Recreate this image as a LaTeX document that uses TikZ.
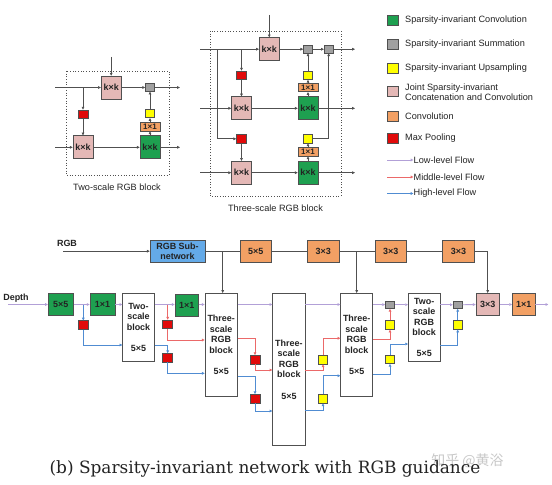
\documentclass[tikz,border=0pt]{standalone}
\usepackage{fontspec}
\setmainfont{Liberation Sans}
\newfontfamily\capserif{DejaVu Serif}
\newfontfamily\cjk{Noto Sans CJK SC}
\usetikzlibrary{arrows.meta,calc}
\definecolor{edgecol}{RGB}{80,80,80}
\definecolor{txtcol}{RGB}{35,35,35}
\definecolor{sgreen}{RGB}{30,160,80}
\definecolor{sgray}{RGB}{160,160,160}
\definecolor{syellow}{RGB}{255,255,0}
\definecolor{spink}{RGB}{228,184,182}
\definecolor{sorange}{RGB}{242,160,100}
\definecolor{sred}{RGB}{225,10,10}
\definecolor{sblue}{RGB}{100,170,232}
\definecolor{lowc}{RGB}{178,160,215}
\definecolor{midc}{RGB}{235,105,105}
\definecolor{highc}{RGB}{80,140,210}
\definecolor{wmark}{RGB}{200,200,200}
\tikzset{
  bx/.style={draw=edgecol, line width=0.6bp, inner sep=0pt, text=txtcol,
    font=\bfseries\fontsize{9}{10.6}\selectfont, align=center},
  gbox/.style={bx, fill=sgreen},
  graybox/.style={bx, fill=sgray, minimum width=9bp, minimum height=7.5bp},
  ybox/.style={bx, fill=syellow, minimum width=9bp, minimum height=8.5bp},
  pbox/.style={bx, fill=spink},
  obox/.style={bx, fill=sorange},
  rbox/.style={bx, fill=sred, minimum width=10bp, minimum height=8.5bp},
  wbox/.style={bx, fill=white},
  kk/.style={minimum width=20bp, minimum height=23bp},
  small/.style={minimum width=20bp, minimum height=8.5bp, font=\bfseries\fontsize{8}{9}\selectfont},
  mid/.style={minimum width=25bp, minimum height=22.5bp},
  arr/.style={draw=edgecol, line width=0.6bp, -{Triangle[length=2.8bp,width=2.6bp]}},
  ln/.style={draw=edgecol, line width=0.6bp},
  lowf/.style={draw=lowc, line width=0.8bp, -{Triangle[length=2.8bp,width=2.6bp]}},
  midf/.style={draw=midc, line width=0.8bp, -{Triangle[length=2.8bp,width=2.6bp]}},
  highf/.style={draw=highc, line width=0.8bp, -{Triangle[length=2.8bp,width=2.6bp]}},
  legtxt/.style={inner sep=0pt, text=txtcol, font=\fontsize{9.2}{10.5}\selectfont, align=left},
  captxt/.style={inner sep=0pt, text=txtcol, font=\fontsize{9.2}{11}\selectfont},
  lbl/.style={inner sep=0pt, text=txtcol, font=\bfseries\fontsize{9}{10}\selectfont},
  dotbox/.style={draw=edgecol, line width=0.7bp, dotted},
}
\begin{document}
\begin{tikzpicture}[x=1bp,y=-1bp]
\useasboundingbox (0,0) rectangle (552,485);
\fill[white] (0,0) rectangle (552,485);

% ---------------- Two-scale RGB block ----------------
\draw[dotbox] (66,71) rectangle (169,175);
\node[pbox,kk] (pkA) at (111.2,87.5) {k×k};
\node[graybox] (g1) at (150,87.5) {};
\node[rbox] (r1) at (83,114.2) {};
\node[pbox,kk] (pkB) at (83,147.3) {k×k};
\node[gbox,kk] (gA) at (150,147.3) {k×k};
\node[obox,small] (oA) at (150,126.7) {1×1};
\node[ybox] (yA) at (150,113.5) {};
\coordinate (inA) at (111.2,57);
\coordinate (tlA) at (55,87.5);
\coordinate (brA) at (83,87.5);
\coordinate (outA1) at (180,87.5);
\coordinate (blA) at (55,147.3);
\coordinate (outA2) at (180,147.3);
\draw[arr] (inA) -- (pkA);
\draw[arr] (tlA) -- (pkA);
\draw[arr] (pkA) -- (g1);
\draw[arr] (g1) -- (outA1);
\draw[arr] (brA) -- (r1);
\draw[arr] (r1) -- (pkB);
\draw[arr] (blA) -- (pkB);
\draw[arr] (pkB) -- (gA);
\draw[arr] (gA) -- (outA2);
\draw[arr] (gA) -- (oA);
\draw[arr] (oA) -- (yA);
\draw[arr] (yA) -- (g1);
\node[captxt] (capA) at (117,187) {Two-scale RGB block};

% ---------------- Three-scale RGB block ----------------
\draw[dotbox] (210,31) rectangle (341,196);
\node[pbox,kk] (pkC) at (269.3,49.2) {k×k};
\node[graybox] (g2) at (308,49.2) {};
\node[graybox] (g3) at (328.7,49.2) {};
\node[rbox] (r2) at (241.5,75.2) {};
\node[pbox,kk] (pkD) at (241.5,108.3) {k×k};
\node[rbox] (r3) at (241.5,138.8) {};
\node[pbox,kk] (pkE) at (241.5,172.7) {k×k};
\node[gbox,kk] (gD) at (308,108.3) {k×k};
\node[gbox,kk] (gE) at (308,172.7) {k×k};
\node[obox,small] (oD) at (308,87.5) {1×1};
\node[obox,small] (oE) at (308,151.8) {1×1};
\node[ybox] (yD) at (308,75.2) {};
\node[ybox] (yE) at (308,138.8) {};
\coordinate (inC) at (269.3,15);
\coordinate (tlC) at (200,49.2);
\coordinate (outC1) at (355,49.2);
\coordinate (br1) at (241.5,49.2);
\coordinate (br2) at (217,49.2);
\coordinate (mlC) at (200,108.3);
\coordinate (outC2) at (355,108.3);
\coordinate (blC) at (200,172.7);
\coordinate (outC3) at (355,172.7);
\draw[arr] (inC) -- (pkC);
\draw[arr] (tlC) -- (pkC);
\draw[arr] (pkC) -- (g2);
\draw[arr] (g2) -- (g3);
\draw[arr] (g3) -- (outC1);
\draw[arr] (br1) -- (r2);
\draw[arr] (r2) -- (pkD);
\draw[arr] (br2) |- (r3);
\draw[arr] (r3) -- (pkE);
\draw[arr] (mlC) -- (pkD);
\draw[arr] (pkD) -- (gD);
\draw[arr] (gD) -- (outC2);
\draw[arr] (blC) -- (pkE);
\draw[arr] (pkE) -- (gE);
\draw[arr] (gE) -- (outC3);
\draw[arr] (gD) -- (oD);
\draw[arr] (oD) -- (yD);
\draw[arr] (yD) -- (g2);
\draw[arr] (gE) -- (oE);
\draw[arr] (oE) -- (yE);
\draw[arr] (yE) -| (g3);
\node[captxt] (capB) at (275.5,208) {Three-scale RGB block};

% ---------------- Legend ----------------
\node[gbox,minimum width=11bp,minimum height=10bp] (L1) at (392.5,20) {};
\node[graybox,minimum width=11bp,minimum height=10bp] (L2) at (392.5,44) {};
\node[ybox,minimum width=11bp,minimum height=10bp] (L3) at (392.5,68.5) {};
\node[pbox,minimum width=11bp,minimum height=10bp] (L4) at (392.5,91.5) {};
\node[obox,minimum width=11bp,minimum height=10bp] (L5) at (392.5,116) {};
\node[rbox,minimum width=11bp,minimum height=10bp] (L6) at (392.5,138.5) {};
\node[legtxt,anchor=west] (T1) at (405,20) {Sparsity-invariant Convolution};
\node[legtxt,anchor=west] (T2) at (405,44) {Sparsity-invariant Summation};
\node[legtxt,anchor=west] (T3) at (405,68.5) {Sparsity-invariant Upsampling};
\node[legtxt,anchor=west] (T4) at (405,92) {Joint Sparsity-invariant\\Concatenation and Convolution};
\node[legtxt,anchor=west] (T5) at (405,116) {Convolution};
\node[legtxt,anchor=west] (T6) at (405,138.5) {Max Pooling};
\node[legtxt,anchor=west] (F1) at (413.5,160) {Low-level Flow};
\node[legtxt,anchor=west] (F2) at (413.5,177) {Middle-level Flow};
\node[legtxt,anchor=west] (F3) at (413.5,193.5) {High-level Flow};
\coordinate (F1a) at (387,160);
\coordinate (F2a) at (387,177);
\coordinate (F3a) at (387,193.5);
\draw[lowf] (F1a) -- (F1.west);
\draw[midf] (F2a) -- (F2.west);
\draw[highf] (F3a) -- (F3.west);

% ---------------- Main network ----------------
\node[lbl] (rgbl) at (67,243) {RGB};
\node[lbl] (depl) at (16,297.7) {Depth};
\node[bx,fill=sblue,minimum width=55bp,minimum height=22.3bp] (rgbsub) at (177.5,251.2) {RGB Sub-\\network};
\node[obox,minimum width=31.7bp,minimum height=22.3bp] (o1) at (255.8,251.2) {5×5};
\node[obox,minimum width=31.7bp,minimum height=22.3bp] (o2) at (323.2,251.2) {3×3};
\node[obox,minimum width=31.7bp,minimum height=22.3bp] (o3) at (390.8,251.2) {3×3};
\node[obox,minimum width=31.7bp,minimum height=22.3bp] (o4) at (458.5,251.2) {3×3};

\node[gbox,mid] (c5) at (60.8,304.5) {5×5};
\node[gbox,mid] (c1a) at (102.5,304.5) {1×1};
\node[wbox,minimum width=31.6bp,minimum height=67.7bp] (ts1) at (138.5,327.2) {Two-\\scale\\block\\[10.6bp]5×5};
\node[gbox,minimum width=23.3bp,minimum height=22.5bp] (c1b) at (186.7,305.3) {1×1};
\node[wbox,minimum width=32.3bp,minimum height=103.4bp] (b1) at (221.2,345) {Three-\\scale\\RGB\\block\\[10.6bp]5×5};
\node[wbox,minimum width=32.3bp,minimum height=152.4bp] (b2) at (288.9,369.5) {Three-\\scale\\RGB\\block\\[10.6bp]5×5};
\node[wbox,minimum width=32bp,minimum height=103.4bp] (b3) at (356.7,345) {Three-\\scale\\RGB\\block\\[10.6bp]5×5};
\node[wbox,minimum width=31.7bp,minimum height=68.4bp] (ts2) at (424.2,327.5) {Two-\\scale\\RGB\\block\\[10.6bp]5×5};
\node[pbox,minimum width=23.3bp,minimum height=22.4bp] (pkF) at (487.7,304.5) {3×3};
\node[obox,minimum width=22.7bp,minimum height=22.4bp] (oF) at (523.7,304.5) {1×1};

\node[rbox] (rA) at (83.3,325) {};
\node[rbox] (rB) at (167.7,324.3) {};
\node[rbox] (rC) at (167.7,357.8) {};
\node[rbox] (rD) at (255,359.7) {};
\node[rbox] (rE) at (255,398.8) {};
\node[ybox] (yF) at (323,359.7) {};
\node[ybox] (yG) at (323,398.8) {};
\node[graybox] (gH) at (390,304.7) {};
\node[ybox] (yH) at (390,325) {};
\node[ybox] (yI) at (390,359.2) {};
\node[graybox] (gJ) at (457.7,304.7) {};
\node[ybox] (yJ) at (457.7,325) {};

\coordinate (rgbin) at (63,251.2);
\coordinate (d1) at (222.7,251.2);
\coordinate (d2) at (356.7,251.2);
\coordinate (din) at (8,304.5);
\coordinate (bA) at (83.3,304.5);
\coordinate (bB) at (167.7,304.5);
\coordinate (outF) at (548.3,304.5);

% RGB branch
\draw[arr] (rgbin) -- (rgbsub);
\draw[ln] (rgbsub) -- (o1) -- (o2) -- (o3) -- (o4);
\draw[arr] (d1) -- (d1 |- b1.north);
\draw[arr] (d2) -- (d2 |- b3.north);
\draw[arr] (o4) -| (pkF);

% low-level flow
\draw[lowf] (din) -- (c5);
\draw[lowf] (c5) -- (c1a);
\draw[lowf] (c1a) -- (c1a -| ts1.west);
\draw[lowf] (ts1.east |- c5) -- (c1b.west |- c5);
\draw[lowf] (c1b.east |- c5) -- (b1.west |- c5);
\draw[lowf] (b1.east |- c5) -- (b2.west |- c5);
\draw[lowf] (b2.east |- c5) -- (b3.west |- c5);
\draw[lowf] (b3.east |- c5) -- (gH);
\draw[lowf] (gH) -- (gH -| ts2.west);
\draw[lowf] (ts2.east |- gJ) -- (gJ);
\draw[lowf] (gJ) -- (pkF);
\draw[lowf] (pkF) -- (oF);
\draw[lowf] (oF) -- (outF);

% first stage
\draw[highf] (bA) -- (rA);
\draw[highf] (rA) |- (ts1.west |- 0,345);
\draw[midf] (bB) -- (rB);
\draw[midf] (rB) |- (b1.west |- 0,340);
\draw[highf] (ts1.east |- 0,345.7) -| (rC);
\draw[highf] (rC) |- (b1.west |- 0,373.3);

% block1 -> block2
\draw[midf] (b1.east |- 0,338) -| (rD);
\draw[midf] (rD) |- (b2.west |- 0,370);
\draw[highf] (b1.east |- 0,376) -| (rE);
\draw[highf] (rE) |- (b2.west |- 0,411);

% block2 -> block3
\draw[midf] (b2.east |- 0,370) -| (yF);
\draw[midf] (yF) |- (b3.west |- 0,338.3);
\draw[highf] (b2.east |- 0,410) -| (yG);
\draw[highf] (yG) |- (b3.west |- 0,375.7);

% block3 -> two-scale RGB block
\draw[midf] (b3.east |- 0,339.3) -| (yH);
\draw[midf] (yH) -- (gH);
\draw[highf] (b3.east |- 0,374) -| (yI);
\draw[highf] (yI) |- (ts2.west |- 0,344);

% two-scale RGB block -> output
\draw[highf] (ts2.east |- 0,345) -| (yJ);
\draw[highf] (yJ) -- (gJ);

% caption and watermark
\node[inner sep=0pt, text=wmark, font=\cjk\fontsize{14}{16}\selectfont] (wm) at (467.5,461) {知乎 @黄浴};
\node[inner sep=0pt, text=txtcol, font=\capserif\fontsize{17}{20}\selectfont] (cap) at (265,469) {(b) Sparsity-invariant network with RGB guidance};
\end{tikzpicture}
\end{document}
